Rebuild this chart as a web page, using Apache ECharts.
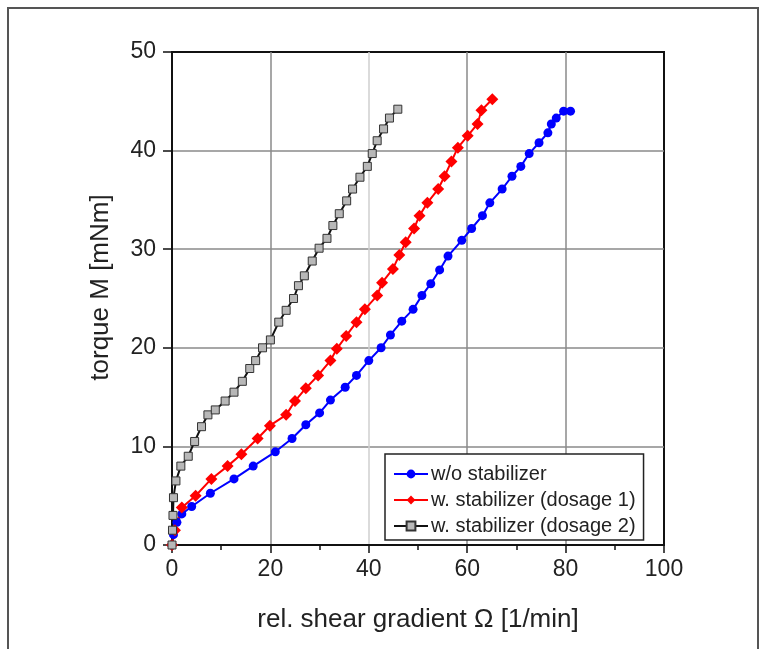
<!DOCTYPE html>
<html>
<head>
<meta charset="utf-8">
<script src="https://cdn.jsdelivr.net/npm/echarts@6/dist/echarts.min.js"></script>
<style>
  html, body { margin: 0; padding: 0; background: #fff; }
  #chart { width: 767px; height: 649px; }
</style>
</head>
<body>
<div id="chart"></div>
<script>
// series names
var names = ['w/o stabilizer', 'w. stabilizer (dosage 1)', 'w. stabilizer (dosage 2)'];

// w/o stabilizer
var blueX = [0, 0.3, 1.0, 2.0, 4.0, 7.8, 12.6, 16.5, 21.0, 24.4, 27.2, 30.0, 32.2, 35.2, 37.5, 40.0, 42.5, 44.4, 46.7, 49.0, 50.8, 52.6, 54.4, 56.1, 58.9, 60.9, 63.1, 64.6, 67.1, 69.1, 70.9, 72.6, 74.6, 76.4, 77.1, 78.1, 79.6, 81.0];
var blueY = [0, 1.05, 2.3, 3.15, 3.9, 5.25, 6.7, 8.0, 9.45, 10.8, 12.2, 13.4, 14.7, 16.0, 17.2, 18.7, 20.0, 21.3, 22.7, 23.9, 25.3, 26.5, 27.9, 29.3, 30.9, 32.1, 33.4, 34.7, 36.1, 37.4, 38.4, 39.7, 40.8, 41.8, 42.7, 43.3, 44.0, 44.0];

// dosage 1
var redX = [0, 0.6, 2.0, 4.8, 8.0, 11.3, 14.1, 17.4, 19.9, 23.2, 25.0, 27.2, 29.7, 32.2, 33.5, 35.4, 37.5, 39.2, 41.7, 42.7, 44.9, 46.2, 47.5, 49.2, 50.3, 51.9, 54.1, 55.4, 56.8, 58.1, 60.1, 62.1, 62.9, 65.1];
var redY = [0, 1.5, 3.8, 5.0, 6.7, 8.0, 9.2, 10.8, 12.1, 13.2, 14.6, 15.9, 17.2, 18.7, 19.9, 21.2, 22.6, 23.9, 25.3, 26.6, 28.0, 29.4, 30.7, 32.1, 33.4, 34.7, 36.1, 37.4, 38.9, 40.3, 41.5, 42.7, 44.1, 45.2];

// dosage 2
var grayX = [0, 0.1, 0.2, 0.3, 0.8, 1.8, 3.3, 4.6, 6.0, 7.3, 8.8, 10.8, 12.6, 14.3, 15.8, 17.0, 18.4, 20.0, 21.7, 23.2, 24.7, 25.7, 26.9, 28.5, 29.9, 31.5, 32.7, 34.0, 35.5, 36.7, 38.2, 39.7, 40.7, 41.7, 43.0, 44.2, 45.9];
var grayY = [0, 1.5, 3.0, 4.8, 6.5, 8.0, 9.0, 10.5, 12.0, 13.2, 13.7, 14.6, 15.5, 16.6, 17.9, 18.7, 20.0, 20.8, 22.6, 23.8, 25.0, 26.3, 27.3, 28.8, 30.1, 31.1, 32.4, 33.6, 34.9, 36.1, 37.3, 38.4, 39.7, 41.0, 42.2, 43.3, 44.2];

function pairs(xs, ys) {
    var out = [];
    for (var i = 0; i < xs.length; i++) out.push([xs[i], ys[i]]);
    return out;
}

var myChart = echarts.init(document.getElementById('chart'));
var font = 'Liberation Sans, Arial, sans-serif';

var option = {
    backgroundColor: '#fff',
    animation: false,
    graphic: [{
        type: 'rect',
        shape: { x: 8, y: 8, width: 750, height: 660 },
        style: { fill: 'none', stroke: '#555', lineWidth: 2 },
        silent: true
    }],
    grid: {
        left: 172, top: 52, width: 492, height: 493,
        show: true, borderColor: '#111', borderWidth: 2
    },
    legend: {
        orient: 'vertical',
        left: 385, top: 454,
        padding: [10, 8, 4, 8],
        itemGap: 6,
        itemWidth: 34,
        itemHeight: 11,
        backgroundColor: '#fff',
        borderColor: '#222',
        borderWidth: 1.5,
        textStyle: { fontFamily: font, fontSize: 20, color: '#222', padding: [0, 0, 0, -2] },
        data: names
    },
    xAxis: {
        type: 'value', min: 0, max: 100, interval: 20,
        name: 'rel. shear gradient Ω [1/min]',
        nameLocation: 'middle', nameGap: 62,
        nameTextStyle: { fontFamily: font, fontSize: 26, color: '#222' },
        axisLine: { lineStyle: { color: '#111', width: 2 } },
        axisTick: { inside: false, length: 8, lineStyle: { color: '#111', width: 1.5 } },
        minorTick: { show: true, splitNumber: 2, length: 5, lineStyle: { color: '#111', width: 1.5 } },
        axisLabel: { fontFamily: font, fontSize: 23, color: '#222', margin: 13 },
        splitLine: {
            showMinLine: false, showMaxLine: false,
            lineStyle: { color: ['#8a8a8a', '#cfcfcf', '#8a8a8a', '#8a8a8a'], width: 1.5 }
        }
    },
    yAxis: {
        type: 'value', min: 0, max: 50, interval: 10,
        name: 'torque M [mNm]',
        nameLocation: 'middle', nameGap: 58,
        nameTextStyle: { fontFamily: font, fontSize: 26, color: '#222', padding: [0, 0, 0, 22] },
        axisLine: { lineStyle: { color: '#111', width: 2 } },
        axisTick: { inside: false, length: 9, lineStyle: { color: '#111', width: 1.5 } },
        axisLabel: { fontFamily: font, fontSize: 23, color: '#222', margin: 16 },
        splitLine: {
            showMinLine: false, showMaxLine: false,
            lineStyle: { color: '#8a8a8a', width: 1.5 }
        }
    },
    series: [
        {
            name: names[0], type: 'line',
            data: pairs(blueX, blueY),
            symbol: 'circle', symbolSize: 9,
            lineStyle: { color: '#0000ff', width: 2 },
            itemStyle: { color: '#0000ff' }
        },
        {
            name: names[1], type: 'line',
            data: pairs(redX, redY),
            symbol: 'diamond', symbolSize: 12,
            lineStyle: { color: '#ff0000', width: 2 },
            itemStyle: { color: '#ff0000' }
        },
        {
            name: names[2], type: 'line',
            data: pairs(grayX, grayY),
            symbol: 'rect', symbolSize: 8,
            lineStyle: { color: '#111', width: 2 },
            itemStyle: { color: '#b8b8b8', borderColor: '#333', borderWidth: 1 }
        }
    ]
};
myChart.setOption(option);
</script>
</body>
</html>
